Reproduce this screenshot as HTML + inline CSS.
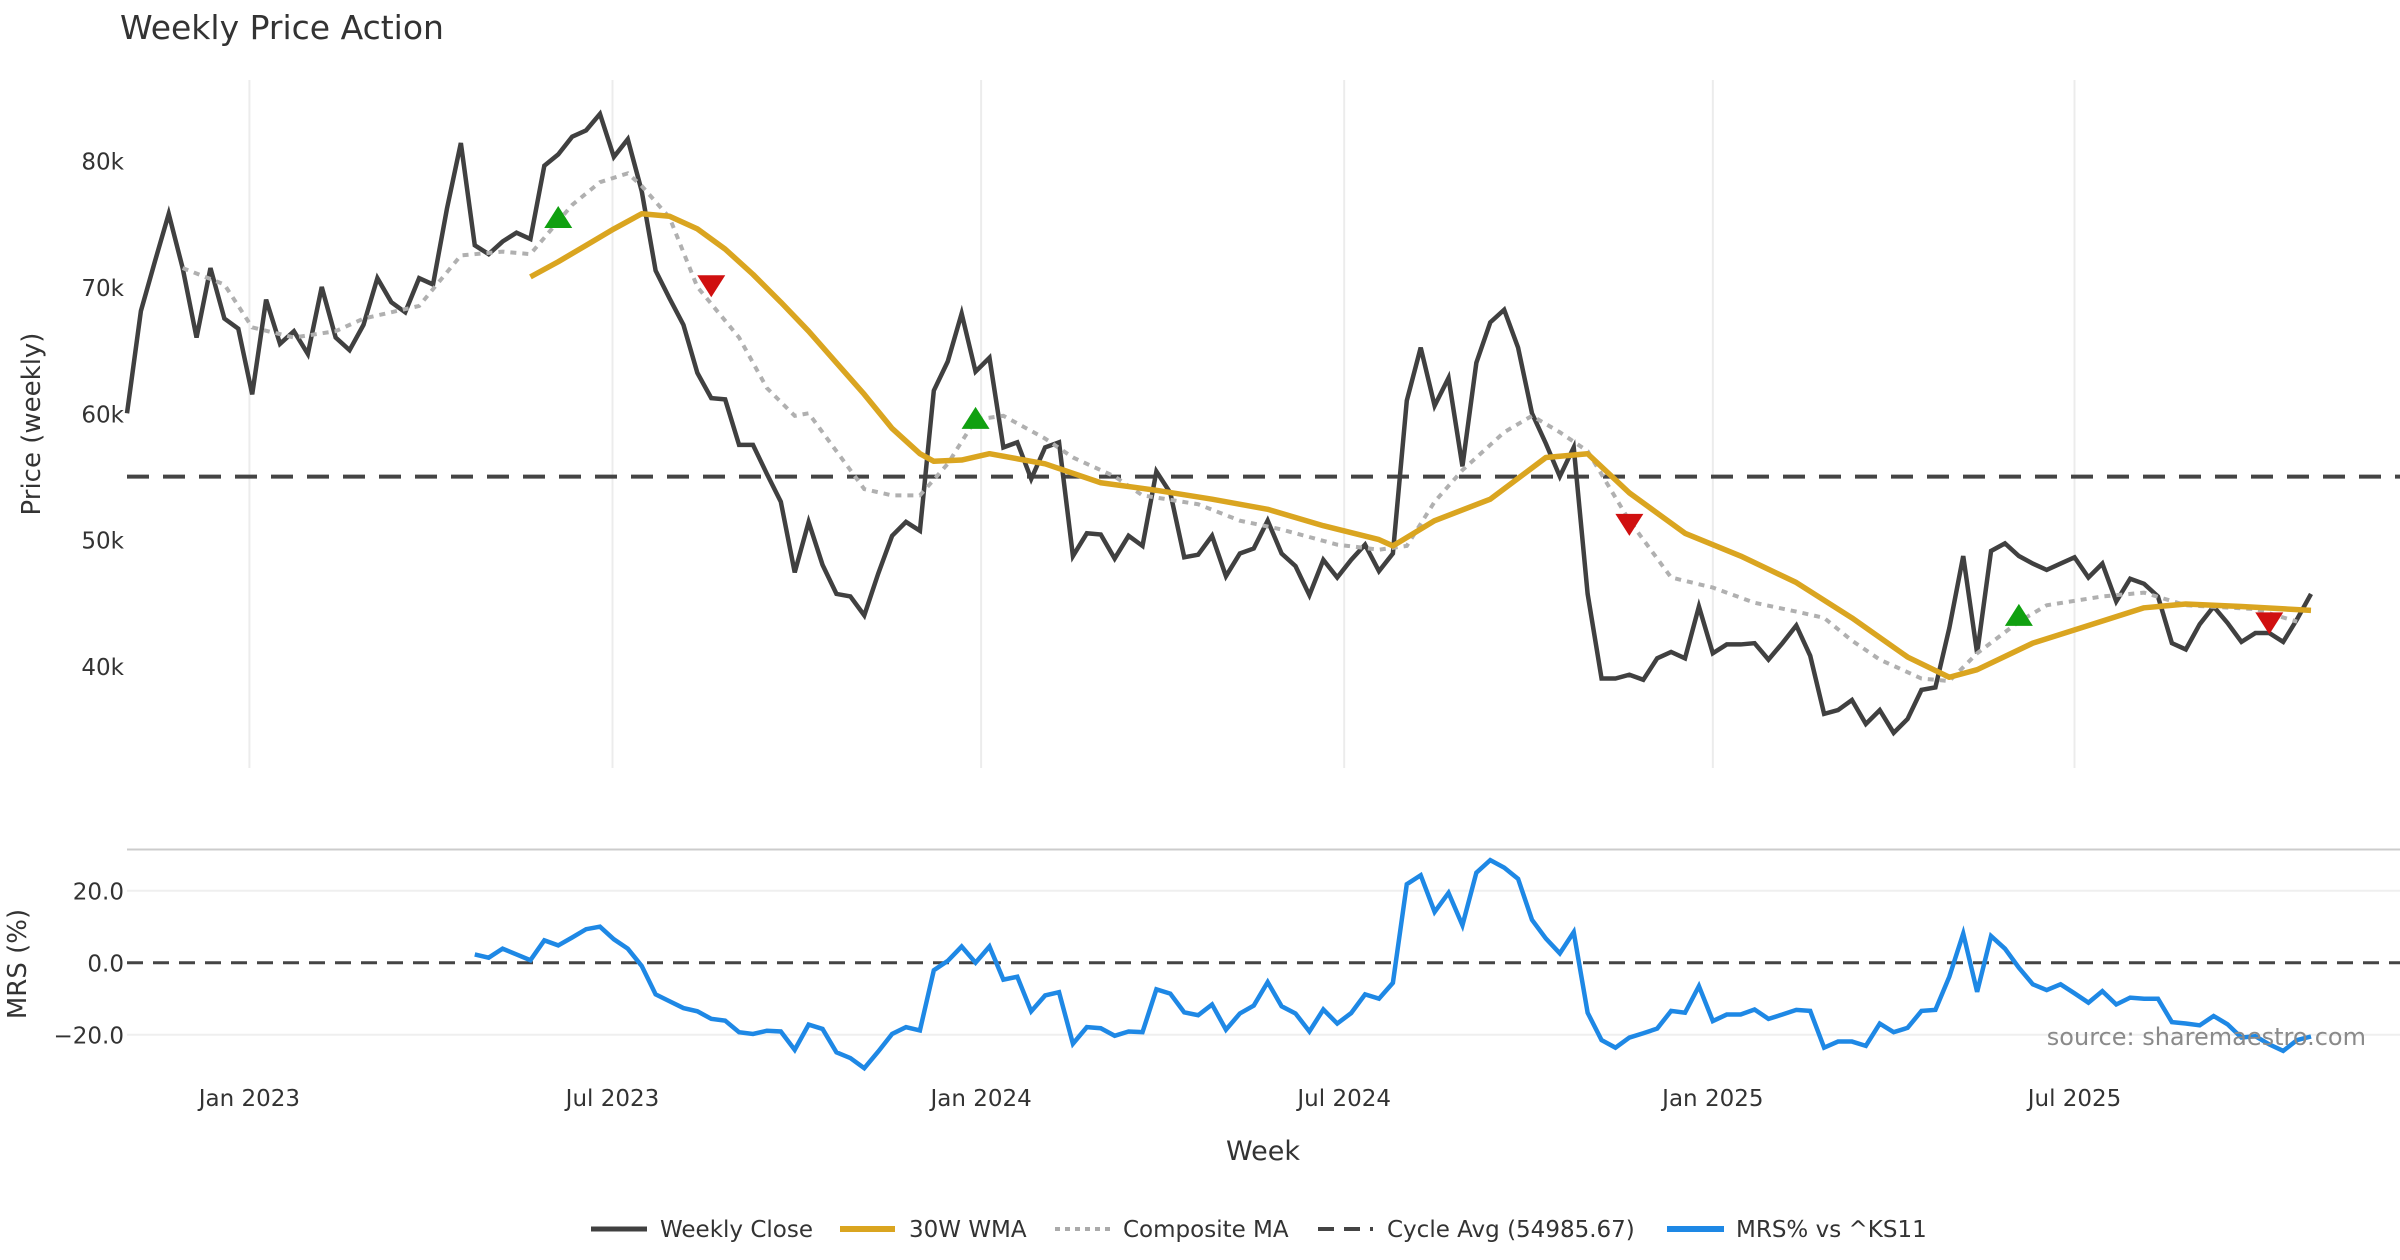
<!DOCTYPE html>
<html><head><meta charset="utf-8">
<style>
html,body{margin:0;padding:0;background:#fff;}
svg{display:block;font-family:"DejaVu Sans","Liberation Sans",sans-serif;}
</style></head>
<body>
<svg id="chart" width="2400" height="1260" viewBox="0 0 2400 1260" xmlns="http://www.w3.org/2000/svg">
<text x="120" y="39" font-size="33" fill="#333">Weekly Price Action</text>
<g id="grid"></g>
<g id="price"></g>
<g id="mrs"></g>
<g id="axes"></g>
<text transform="translate(40,424) rotate(-90)" text-anchor="middle" font-size="26" fill="#333">Price (weekly)</text>
<text transform="translate(26,964) rotate(-90)" text-anchor="middle" font-size="26" fill="#333">MRS (%)</text>
<text x="1263" y="1160" text-anchor="middle" font-size="27" fill="#333">Week</text>
<text x="2366" y="1045" text-anchor="end" font-size="24" fill="#8a8a8a">source: sharemaestro.com</text>
<g font-size="23" fill="#333">
  <g><line x1="591" y1="1229" x2="647" y2="1229" stroke="#404040" stroke-width="5"/><text x="660" y="1237">Weekly Close</text></g>
  <g><line x1="840" y1="1229" x2="895" y2="1229" stroke="#DAA520" stroke-width="6"/><text x="909" y="1237">30W WMA</text></g>
  <g><line x1="1055" y1="1229" x2="1110" y2="1229" stroke="#aaaaaa" stroke-width="4" stroke-dasharray="5,5"/><text x="1123" y="1237">Composite MA</text></g>
  <g><line x1="1318" y1="1229" x2="1373" y2="1229" stroke="#444" stroke-width="4" stroke-dasharray="16,10"/><text x="1387" y="1237">Cycle Avg (54985.67)</text></g>
  <g><line x1="1667" y1="1229" x2="1724" y2="1229" stroke="#1E88E5" stroke-width="6"/><text x="1736" y="1237">MRS% vs ^KS11</text></g>
</g>
</svg>
<script>
const closeVals=[60,68.1,72,75.8,71.5,66,71.5,67.5,66.7,61.5,69,65.5,66.5,64.7,70,66,65,67,70.7,68.8,68,70.7,70.2,76.2,81.4,73.3,72.6,73.6,74.3,73.8,79.6,80.5,81.9,82.4,83.7,80.3,81.7,77.6,71.3,69.1,67,63.2,61.2,61.1,57.5,57.5,55.2,53,47.4,51.4,48,45.7,45.5,44,47.3,50.3,51.4,50.7,61.8,64.1,67.9,63.3,64.4,57.3,57.7,54.8,57.3,57.7,48.7,50.5,50.4,48.5,50.3,49.5,55.4,53.7,48.6,48.8,50.3,47.1,48.9,49.3,51.5,48.9,47.9,45.6,48.4,47,48.4,49.6,47.5,48.9,61,65.2,60.6,62.8,55.8,64,67.2,68.2,65.2,60,57.6,55,57.3,45.7,39,39,39.3,38.9,40.6,41.1,40.6,44.7,41,41.7,41.7,41.8,40.5,41.8,43.2,40.8,36.2,36.5,37.3,35.4,36.5,34.7,35.8,38.1,38.3,43,48.7,41,49.1,49.7,48.7,48.1,47.6,48.1,48.6,47,48.1,45.1,46.9,46.5,45.5,41.8,41.3,43.3,44.7,43.4,41.9,42.6,42.6,41.9,43.7,45.7];
const wmaIdx=[29,31,33,35,37,39,41,43,45,47,49,51,53,55,57,58,60,62,66,70,74,78,82,86,90,91,94,98,102,105,108,112,116,120,124,128,131,133,137,141,145,148,152,157];
const wmaVals=[70.8,72.0,73.3,74.6,75.8,75.6,74.6,73.0,71.0,68.8,66.5,64.0,61.5,58.8,56.8,56.2,56.3,56.8,56.0,54.5,53.9,53.2,52.4,51.1,50.0,49.5,51.5,53.2,56.5,56.8,53.7,50.5,48.7,46.6,43.8,40.7,39.1,39.7,41.8,43.2,44.6,44.9,44.7,44.4];
const compIdx=[4,7,9,12,15,17,21,24,27,29,32,34,36,37,39,41,44,46,48,49,51,53,55,57,59,61,63,66,68,71,73,77,80,83,87,90,92,94,96,99,101,103,105,108,111,114,117,120,122,124,126,129,131,133,136,138,142,145,148,153,156];
const compVals=[71.5,70.2,66.8,66,66.5,67.5,68.5,72.5,72.8,72.6,76.5,78.3,79,78,75.5,70,66,62,59.8,60,57,54,53.5,53.5,56,59.5,59.8,58,56.5,55,53.5,52.8,51.5,50.8,49.6,49.2,49.5,53,55.5,58.5,59.8,58.5,57,51.5,47,46.2,45,44.3,43.8,42,40.5,39,38.8,41,43.5,44.8,45.5,45.8,44.8,44.5,43.5];
const mrsStart=25;
const mrsVals=[2.3,1.4,3.9,2.3,0.7,6.2,4.8,7,9.3,10,6.5,3.9,-0.9,-8.8,-10.7,-12.6,-13.5,-15.6,-16.1,-19.3,-19.8,-18.9,-19.1,-24.2,-17.2,-18.4,-24.9,-26.5,-29.3,-24.7,-19.8,-17.9,-18.8,-2.1,0.5,4.5,0,4.5,-4.7,-3.9,-13.5,-9.1,-8.2,-22.5,-17.9,-18.2,-20.3,-19.1,-19.3,-7.4,-8.6,-13.8,-14.6,-11.6,-18.6,-14.1,-11.9,-5.4,-12.1,-14.1,-19.1,-13,-16.9,-14,-8.8,-10,-5.6,21.8,24.3,14.1,19.4,10.4,25,28.5,26.4,23.3,11.9,6.7,2.6,8.5,-13.9,-21.5,-23.6,-20.8,-19.6,-18.3,-13.4,-13.9,-6.5,-16.2,-14.4,-14.4,-13,-15.6,-14.4,-13.1,-13.4,-23.6,-21.9,-21.9,-23.1,-16.9,-19.3,-18.1,-13.4,-13.1,-3.9,8.1,-8.1,7.4,3.9,-1.4,-6,-7.6,-6,-8.5,-11.1,-7.9,-11.6,-9.7,-10,-10,-16.5,-16.9,-17.4,-14.8,-17.1,-20.8,-20.4,-22.7,-24.5,-21.5,-20.5];
const upIdx=[31,61,136];
const upVals=[75.3,59.4,43.8];
const downIdx=[42,108,154];
const downVals=[70.3,51.4,43.6];
const cycleAvg=54.98567;
const priceTicks=[40,50,60,70,80];
const priceTickLabels=["40k","50k","60k","70k","80k"];
const mrsTicks=[-20,0,20];
const mrsTickLabels=["\u221220.0","0.0","20.0"];
const monthIdx=[8.8,34.9,61.4,87.5,114.0,140.0];
const monthLabels=["Jan 2023","Jul 2023","Jan 2024","Jul 2024","Jan 2025","Jul 2025"];

const NS="http://www.w3.org/2000/svg";
const X0=127,X1=2311,N=closeVals.length;
function xs(i){return X0+i*(X1-X0)/(N-1);}
function yp(v){return 160.7+(80-v)/10*126.3;}
function ym(v){return 962.7-v*3.6;}
function mk(tag,attrs,parent){const e=document.createElementNS(NS,tag);for(const k in attrs)e.setAttribute(k,attrs[k]);parent.appendChild(e);return e;}
const grid=document.getElementById('grid'),price=document.getElementById('price'),mrs=document.getElementById('mrs'),axes=document.getElementById('axes');

monthIdx.forEach((m,k)=>{
  const gl=mk('line',{x1:xs(m),x2:xs(m),y1:80,y2:768,stroke:'#ececec','stroke-width':2},grid);
  
  
  const t=mk('text',{x:xs(m),y:1106,'text-anchor':'middle','font-size':23,fill:'#333'},axes);
  t.textContent=monthLabels[k];
  
  
});
priceTicks.forEach((v,k)=>{
  const t=mk('text',{x:124,y:yp(v)+9,'text-anchor':'end','font-size':23,fill:'#333'},axes);
  t.textContent=priceTickLabels[k];
  
  
});
const sep=mk('line',{x1:127,x2:2400,y1:849.5,y2:849.5,stroke:'#cccccc','stroke-width':2},grid);


mrsTicks.forEach((v,k)=>{
  if(v!==0){const gl=mk('line',{x1:127,x2:2400,y1:ym(v),y2:ym(v),stroke:'#efefef','stroke-width':2},grid);
  
  }
  const t=mk('text',{x:124,y:ym(v)+9,'text-anchor':'end','font-size':23,fill:'#333'},axes);
  t.textContent=mrsTickLabels[k];
  
  
});
const cyc=mk('line',{x1:127,x2:2400,y1:yp(cycleAvg),y2:yp(cycleAvg),stroke:'#444','stroke-width':4,'stroke-dasharray':'22,14'},price);


const mz=mk('line',{x1:127,x2:2400,y1:ym(0),y2:ym(0),stroke:'#444','stroke-width':3,'stroke-dasharray':'16,10'},mrs);



const cp=mk('polyline',{points:closeVals.map((v,i)=>xs(i)+','+yp(v)).join(' '),fill:'none',stroke:'#404040','stroke-width':4.5,'stroke-linejoin':'miter'},price);


const comp=mk('polyline',{points:compVals.map((v,k)=>xs(compIdx[k])+','+yp(v)).join(' '),fill:'none',stroke:'#b0b0b0','stroke-width':4,'stroke-dasharray':'6,6'},price);


const wma=mk('polyline',{points:wmaVals.map((v,k)=>xs(wmaIdx[k])+','+yp(v)).join(' '),fill:'none',stroke:'#DAA520','stroke-width':5.5,'stroke-linejoin':'round'},price);


upIdx.forEach((ix,k)=>{
  const x=xs(ix),y=yp(upVals[k]);
  const p=mk('polygon',{points:(x-14)+','+(y+8)+' '+(x+14)+','+(y+8)+' '+x+','+(y-14),fill:'#10A010'},price);
  
  
});
downIdx.forEach((ix,k)=>{
  const x=xs(ix),y=yp(downVals[k]);
  const p=mk('polygon',{points:(x-14)+','+(y-8)+' '+(x+14)+','+(y-8)+' '+x+','+(y+14),fill:'#D01010'},price);
  
  
});
const mp=mk('polyline',{points:mrsVals.map((v,k)=>xs(mrsStart+k)+','+ym(v)).join(' '),fill:'none',stroke:'#1E88E5','stroke-width':4.5},mrs);


</script>
</body></html>
